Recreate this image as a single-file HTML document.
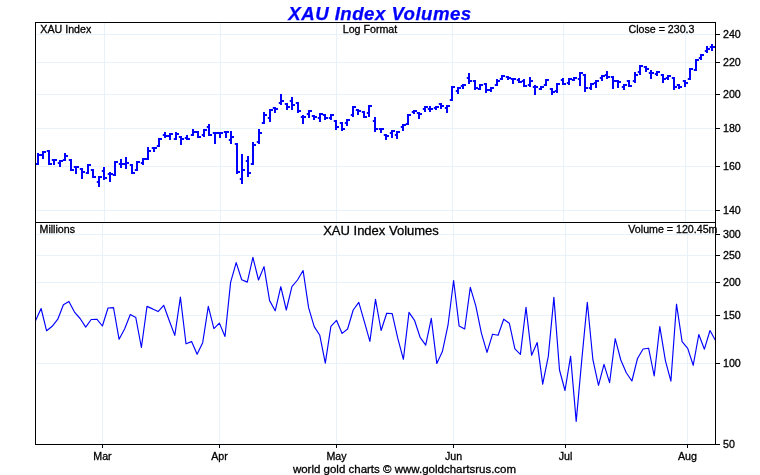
<!DOCTYPE html>
<html><head><meta charset="utf-8"><title>XAU Index Volumes</title>
<style>
html,body{margin:0;padding:0;background:#fff}
#c{position:relative;width:760px;height:475px;overflow:hidden;background:#fff;font-family:"Liberation Sans",Arial,sans-serif;color:#000}
.t{position:absolute;white-space:nowrap;line-height:1;-webkit-text-stroke:0.3px #000}
.s{font-size:10.67px;line-height:12px}
.m{font-size:13px;line-height:14px}
.f{font-size:11.5px;line-height:12px}
.title{font-size:18.67px;letter-spacing:0.46px;line-height:20px;font-weight:bold;font-style:italic;color:#0000ff;-webkit-text-stroke:0.25px #0000ff}
</style></head><body>
<div id="c">
<svg width="760" height="475" viewBox="0 0 760 475" style="position:absolute;left:0;top:0"><g fill="#e8f2fa" shape-rendering="crispEdges"><rect x="36" y="34" width="679" height="1"/><rect x="36" y="62" width="679" height="1"/><rect x="36" y="94" width="679" height="1"/><rect x="36" y="128" width="679" height="1"/><rect x="36" y="166" width="679" height="1"/><rect x="36" y="210" width="679" height="1"/><rect x="36" y="234" width="679" height="1"/><rect x="36" y="255" width="679" height="1"/><rect x="36" y="282" width="679" height="1"/><rect x="36" y="315" width="679" height="1"/><rect x="36" y="363" width="679" height="1"/><rect x="104" y="23" width="1" height="199"/><rect x="220" y="23" width="1" height="199"/><rect x="336" y="23" width="1" height="199"/><rect x="452" y="23" width="1" height="199"/><rect x="563" y="23" width="1" height="199"/><rect x="685" y="23" width="1" height="199"/><rect x="102" y="223" width="1" height="221"/><rect x="219" y="223" width="1" height="221"/><rect x="336" y="223" width="1" height="221"/><rect x="453" y="223" width="1" height="221"/><rect x="565" y="223" width="1" height="221"/><rect x="687" y="223" width="1" height="221"/></g><g fill="#0000ff"><rect x="37" y="153" width="2" height="12"/><rect x="35.8" y="163" width="1.2" height="2"/><rect x="39" y="154" width="2" height="2"/><rect x="42" y="151" width="2" height="8"/><rect x="40.8" y="154" width="1.2" height="2"/><rect x="44" y="151" width="2" height="2"/><rect x="48" y="150" width="2" height="15"/><rect x="46.8" y="150" width="1.2" height="2"/><rect x="50" y="163" width="2" height="2"/><rect x="53" y="159" width="2" height="6"/><rect x="51.8" y="159" width="1.2" height="2"/><rect x="55" y="159" width="2" height="2"/><rect x="59" y="160" width="2" height="7"/><rect x="57.8" y="162" width="1.2" height="2"/><rect x="61" y="160" width="2" height="2"/><rect x="64" y="153" width="2" height="8"/><rect x="62.8" y="159" width="1.2" height="2"/><rect x="66" y="155" width="2" height="2"/><rect x="70" y="159" width="2" height="12"/><rect x="68.8" y="159" width="1.2" height="2"/><rect x="72" y="169" width="2" height="2"/><rect x="75" y="166" width="2" height="8"/><rect x="73.8" y="166" width="1.2" height="2"/><rect x="77" y="166" width="2" height="2"/><rect x="81" y="168" width="2" height="11"/><rect x="79.8" y="168" width="1.2" height="2"/><rect x="83" y="171" width="2" height="2"/><rect x="87" y="164" width="2" height="10"/><rect x="85.8" y="172" width="1.2" height="2"/><rect x="89" y="164" width="2" height="2"/><rect x="92" y="169" width="2" height="9"/><rect x="90.8" y="169" width="1.2" height="2"/><rect x="94" y="176" width="2" height="2"/><rect x="98" y="176" width="2" height="11"/><rect x="96.8" y="181" width="1.2" height="2"/><rect x="100" y="176" width="2" height="2"/><rect x="103" y="167" width="2" height="13"/><rect x="101.8" y="170" width="1.2" height="2"/><rect x="105" y="177" width="2" height="2"/><rect x="109" y="172" width="2" height="10"/><rect x="107.8" y="173" width="1.2" height="2"/><rect x="111" y="173" width="2" height="2"/><rect x="114" y="161" width="2" height="15"/><rect x="112.8" y="174" width="1.2" height="2"/><rect x="116" y="161" width="2" height="2"/><rect x="120" y="159" width="2" height="9"/><rect x="118.8" y="163" width="1.2" height="2"/><rect x="122" y="163" width="2" height="2"/><rect x="125" y="157" width="2" height="12"/><rect x="123.8" y="163" width="1.2" height="2"/><rect x="127" y="162" width="2" height="2"/><rect x="131" y="164" width="2" height="10"/><rect x="129.8" y="164" width="1.2" height="2"/><rect x="133" y="172" width="2" height="2"/><rect x="136" y="161" width="2" height="10"/><rect x="134.8" y="169" width="1.2" height="2"/><rect x="138" y="161" width="2" height="2"/><rect x="142" y="158" width="2" height="7"/><rect x="140.8" y="162" width="1.2" height="2"/><rect x="144" y="158" width="2" height="2"/><rect x="147" y="147" width="2" height="13"/><rect x="145.8" y="158" width="1.2" height="2"/><rect x="149" y="150" width="2" height="2"/><rect x="153" y="147" width="2" height="5"/><rect x="151.8" y="147" width="1.2" height="2"/><rect x="155" y="147" width="2" height="2"/><rect x="158" y="138" width="2" height="9"/><rect x="156.8" y="145" width="1.2" height="2"/><rect x="160" y="138" width="2" height="2"/><rect x="164" y="132" width="2" height="6"/><rect x="162.8" y="134" width="1.2" height="2"/><rect x="166" y="135" width="2" height="2"/><rect x="169" y="133" width="2" height="7"/><rect x="167.8" y="135" width="1.2" height="2"/><rect x="171" y="133" width="2" height="2"/><rect x="175" y="132" width="2" height="8"/><rect x="173.8" y="138" width="1.2" height="2"/><rect x="177" y="133" width="2" height="2"/><rect x="180" y="136" width="2" height="9"/><rect x="178.8" y="136" width="1.2" height="2"/><rect x="182" y="138" width="2" height="2"/><rect x="186" y="135" width="2" height="5"/><rect x="184.8" y="137" width="1.2" height="2"/><rect x="188" y="138" width="2" height="2"/><rect x="192" y="129" width="2" height="7"/><rect x="190.8" y="134" width="1.2" height="2"/><rect x="194" y="131" width="2" height="2"/><rect x="197" y="131" width="2" height="7"/><rect x="195.8" y="131" width="1.2" height="2"/><rect x="199" y="136" width="2" height="2"/><rect x="203" y="129" width="2" height="8"/><rect x="201.8" y="134" width="1.2" height="2"/><rect x="205" y="129" width="2" height="2"/><rect x="208" y="124" width="2" height="12"/><rect x="206.8" y="126" width="1.2" height="2"/><rect x="210" y="134" width="2" height="2"/><rect x="214" y="132" width="2" height="12"/><rect x="212.8" y="132" width="1.2" height="2"/><rect x="216" y="132" width="2" height="2"/><rect x="219" y="132" width="2" height="6"/><rect x="217.8" y="132" width="1.2" height="2"/><rect x="221" y="132" width="2" height="2"/><rect x="225" y="131" width="2" height="7"/><rect x="223.8" y="131" width="1.2" height="2"/><rect x="227" y="131" width="2" height="2"/><rect x="230" y="131" width="2" height="13"/><rect x="228.8" y="139" width="1.2" height="2"/><rect x="232" y="136" width="2" height="2"/><rect x="236" y="143" width="2" height="31"/><rect x="234.8" y="143" width="1.2" height="2"/><rect x="238" y="171" width="2" height="2"/><rect x="241" y="154" width="2" height="30"/><rect x="239.8" y="178" width="1.2" height="2"/><rect x="243" y="169" width="2" height="2"/><rect x="247" y="156" width="2" height="21"/><rect x="245.8" y="160" width="1.2" height="2"/><rect x="249" y="172" width="2" height="2"/><rect x="252" y="142" width="2" height="23"/><rect x="250.8" y="163" width="1.2" height="2"/><rect x="254" y="144" width="2" height="2"/><rect x="258" y="129" width="2" height="15"/><rect x="256.8" y="141" width="1.2" height="2"/><rect x="260" y="132" width="2" height="2"/><rect x="263" y="112" width="2" height="12"/><rect x="261.8" y="122" width="1.2" height="2"/><rect x="265" y="114" width="2" height="2"/><rect x="269" y="109" width="2" height="13"/><rect x="267.8" y="117" width="1.2" height="2"/><rect x="271" y="109" width="2" height="2"/><rect x="274" y="107" width="2" height="6"/><rect x="272.8" y="107" width="1.2" height="2"/><rect x="276" y="108" width="2" height="2"/><rect x="280" y="94" width="2" height="11"/><rect x="278.8" y="102" width="1.2" height="2"/><rect x="282" y="100" width="2" height="2"/><rect x="286" y="103" width="2" height="7"/><rect x="284.8" y="103" width="1.2" height="2"/><rect x="288" y="106" width="2" height="2"/><rect x="291" y="97" width="2" height="13"/><rect x="289.8" y="100" width="1.2" height="2"/><rect x="293" y="104" width="2" height="2"/><rect x="297" y="102" width="2" height="11"/><rect x="295.8" y="102" width="1.2" height="2"/><rect x="299" y="110" width="2" height="2"/><rect x="302" y="115" width="2" height="9"/><rect x="300.8" y="116" width="1.2" height="2"/><rect x="304" y="116" width="2" height="2"/><rect x="308" y="110" width="2" height="8"/><rect x="306.8" y="113" width="1.2" height="2"/><rect x="310" y="110" width="2" height="2"/><rect x="313" y="115" width="2" height="5"/><rect x="311.8" y="115" width="1.2" height="2"/><rect x="315" y="116" width="2" height="2"/><rect x="319" y="113" width="2" height="9"/><rect x="317.8" y="117" width="1.2" height="2"/><rect x="321" y="113" width="2" height="2"/><rect x="324" y="114" width="2" height="6"/><rect x="322.8" y="114" width="1.2" height="2"/><rect x="326" y="117" width="2" height="2"/><rect x="330" y="114" width="2" height="6"/><rect x="328.8" y="117" width="1.2" height="2"/><rect x="332" y="114" width="2" height="2"/><rect x="335" y="120" width="2" height="10"/><rect x="333.8" y="120" width="1.2" height="2"/><rect x="337" y="126" width="2" height="2"/><rect x="341" y="122" width="2" height="9"/><rect x="339.8" y="122" width="1.2" height="2"/><rect x="343" y="128" width="2" height="2"/><rect x="346" y="119" width="2" height="7"/><rect x="344.8" y="122" width="1.2" height="2"/><rect x="348" y="119" width="2" height="2"/><rect x="352" y="106" width="2" height="11"/><rect x="350.8" y="114" width="1.2" height="2"/><rect x="354" y="106" width="2" height="2"/><rect x="357" y="109" width="2" height="6"/><rect x="355.8" y="109" width="1.2" height="2"/><rect x="359" y="110" width="2" height="2"/><rect x="363" y="111" width="2" height="7"/><rect x="361.8" y="111" width="1.2" height="2"/><rect x="365" y="116" width="2" height="2"/><rect x="368" y="105" width="2" height="12"/><rect x="366.8" y="112" width="1.2" height="2"/><rect x="370" y="105" width="2" height="2"/><rect x="374" y="117" width="2" height="15"/><rect x="372.8" y="120" width="1.2" height="2"/><rect x="376" y="128" width="2" height="2"/><rect x="380" y="128" width="2" height="5"/><rect x="378.8" y="128" width="1.2" height="2"/><rect x="382" y="128" width="2" height="2"/><rect x="385" y="134" width="2" height="6"/><rect x="383.8" y="134" width="1.2" height="2"/><rect x="387" y="135" width="2" height="2"/><rect x="391" y="130" width="2" height="8"/><rect x="389.8" y="132" width="1.2" height="2"/><rect x="393" y="130" width="2" height="2"/><rect x="396" y="131" width="2" height="8"/><rect x="394.8" y="134" width="1.2" height="2"/><rect x="398" y="131" width="2" height="2"/><rect x="402" y="124" width="2" height="7"/><rect x="400.8" y="126" width="1.2" height="2"/><rect x="404" y="124" width="2" height="2"/><rect x="407" y="114" width="2" height="11"/><rect x="405.8" y="123" width="1.2" height="2"/><rect x="409" y="114" width="2" height="2"/><rect x="413" y="110" width="2" height="4"/><rect x="411.8" y="111" width="1.2" height="2"/><rect x="415" y="110" width="2" height="2"/><rect x="418" y="112" width="2" height="7"/><rect x="416.8" y="112" width="1.2" height="2"/><rect x="420" y="113" width="2" height="2"/><rect x="424" y="106" width="2" height="6"/><rect x="422.8" y="108" width="1.2" height="2"/><rect x="426" y="106" width="2" height="2"/><rect x="429" y="106" width="2" height="6"/><rect x="427.8" y="108" width="1.2" height="2"/><rect x="431" y="108" width="2" height="2"/><rect x="435" y="106" width="2" height="4"/><rect x="433.8" y="107" width="1.2" height="2"/><rect x="437" y="106" width="2" height="2"/><rect x="440" y="103" width="2" height="6"/><rect x="438.8" y="103" width="1.2" height="2"/><rect x="442" y="105" width="2" height="2"/><rect x="446" y="105" width="2" height="8"/><rect x="444.8" y="107" width="1.2" height="2"/><rect x="448" y="105" width="2" height="2"/><rect x="451" y="86" width="2" height="15"/><rect x="449.8" y="99" width="1.2" height="2"/><rect x="453" y="86" width="2" height="2"/><rect x="457" y="87" width="2" height="7"/><rect x="455.8" y="90" width="1.2" height="2"/><rect x="459" y="87" width="2" height="2"/><rect x="462" y="84" width="2" height="5"/><rect x="460.8" y="85" width="1.2" height="2"/><rect x="464" y="84" width="2" height="2"/><rect x="468" y="73" width="2" height="11"/><rect x="466.8" y="77" width="1.2" height="2"/><rect x="470" y="80" width="2" height="2"/><rect x="474" y="80" width="2" height="10"/><rect x="472.8" y="80" width="1.2" height="2"/><rect x="476" y="87" width="2" height="2"/><rect x="479" y="84" width="2" height="6"/><rect x="477.8" y="88" width="1.2" height="2"/><rect x="481" y="84" width="2" height="2"/><rect x="485" y="83" width="2" height="10"/><rect x="483.8" y="83" width="1.2" height="2"/><rect x="487" y="89" width="2" height="2"/><rect x="490" y="87" width="2" height="5"/><rect x="488.8" y="89" width="1.2" height="2"/><rect x="492" y="87" width="2" height="2"/><rect x="496" y="79" width="2" height="7"/><rect x="494.8" y="84" width="1.2" height="2"/><rect x="498" y="80" width="2" height="2"/><rect x="501" y="75" width="2" height="5"/><rect x="499.8" y="78" width="1.2" height="2"/><rect x="503" y="75" width="2" height="2"/><rect x="507" y="76" width="2" height="4"/><rect x="505.8" y="76" width="1.2" height="2"/><rect x="509" y="77" width="2" height="2"/><rect x="512" y="78" width="2" height="6"/><rect x="510.8" y="78" width="1.2" height="2"/><rect x="514" y="78" width="2" height="2"/><rect x="518" y="78" width="2" height="5"/><rect x="516.8" y="79" width="1.2" height="2"/><rect x="520" y="81" width="2" height="2"/><rect x="523" y="79" width="2" height="8"/><rect x="521.8" y="80" width="1.2" height="2"/><rect x="525" y="85" width="2" height="2"/><rect x="529" y="77" width="2" height="10"/><rect x="527.8" y="84" width="1.2" height="2"/><rect x="531" y="80" width="2" height="2"/><rect x="534" y="85" width="2" height="10"/><rect x="532.8" y="86" width="1.2" height="2"/><rect x="536" y="86" width="2" height="2"/><rect x="540" y="86" width="2" height="4"/><rect x="538.8" y="88" width="1.2" height="2"/><rect x="542" y="86" width="2" height="2"/><rect x="545" y="79" width="2" height="7"/><rect x="543.8" y="84" width="1.2" height="2"/><rect x="547" y="79" width="2" height="2"/><rect x="551" y="88" width="2" height="7"/><rect x="549.8" y="88" width="1.2" height="2"/><rect x="553" y="91" width="2" height="2"/><rect x="556" y="83" width="2" height="10"/><rect x="554.8" y="90" width="1.2" height="2"/><rect x="558" y="83" width="2" height="2"/><rect x="562" y="78" width="2" height="7"/><rect x="560.8" y="79" width="1.2" height="2"/><rect x="564" y="83" width="2" height="2"/><rect x="568" y="78" width="2" height="7"/><rect x="566.8" y="82" width="1.2" height="2"/><rect x="570" y="78" width="2" height="2"/><rect x="573" y="77" width="2" height="4"/><rect x="571.8" y="79" width="1.2" height="2"/><rect x="575" y="77" width="2" height="2"/><rect x="579" y="72" width="2" height="14"/><rect x="577.8" y="78" width="1.2" height="2"/><rect x="581" y="72" width="2" height="2"/><rect x="584" y="74" width="2" height="18"/><rect x="582.8" y="74" width="1.2" height="2"/><rect x="586" y="87" width="2" height="2"/><rect x="590" y="83" width="2" height="7"/><rect x="588.8" y="87" width="1.2" height="2"/><rect x="592" y="83" width="2" height="2"/><rect x="595" y="80" width="2" height="8"/><rect x="593.8" y="82" width="1.2" height="2"/><rect x="597" y="80" width="2" height="2"/><rect x="601" y="75" width="2" height="6"/><rect x="599.8" y="77" width="1.2" height="2"/><rect x="603" y="75" width="2" height="2"/><rect x="606" y="71" width="2" height="8"/><rect x="604.8" y="74" width="1.2" height="2"/><rect x="608" y="76" width="2" height="2"/><rect x="612" y="76" width="2" height="13"/><rect x="610.8" y="76" width="1.2" height="2"/><rect x="614" y="80" width="2" height="2"/><rect x="617" y="80" width="2" height="8"/><rect x="615.8" y="80" width="1.2" height="2"/><rect x="619" y="81" width="2" height="2"/><rect x="623" y="84" width="2" height="6"/><rect x="621.8" y="86" width="1.2" height="2"/><rect x="625" y="84" width="2" height="2"/><rect x="628" y="80" width="2" height="7"/><rect x="626.8" y="80" width="1.2" height="2"/><rect x="630" y="85" width="2" height="2"/><rect x="634" y="72" width="2" height="11"/><rect x="632.8" y="80" width="1.2" height="2"/><rect x="636" y="74" width="2" height="2"/><rect x="639" y="65" width="2" height="10"/><rect x="637.8" y="71" width="1.2" height="2"/><rect x="641" y="65" width="2" height="2"/><rect x="645" y="66" width="2" height="6"/><rect x="643.8" y="66" width="1.2" height="2"/><rect x="647" y="68" width="2" height="2"/><rect x="650" y="70" width="2" height="9"/><rect x="648.8" y="72" width="1.2" height="2"/><rect x="652" y="72" width="2" height="2"/><rect x="656" y="71" width="2" height="5"/><rect x="654.8" y="73" width="1.2" height="2"/><rect x="658" y="71" width="2" height="2"/><rect x="662" y="74" width="2" height="9"/><rect x="660.8" y="74" width="1.2" height="2"/><rect x="664" y="78" width="2" height="2"/><rect x="667" y="75" width="2" height="5"/><rect x="665.8" y="77" width="1.2" height="2"/><rect x="669" y="75" width="2" height="2"/><rect x="673" y="77" width="2" height="13"/><rect x="671.8" y="77" width="1.2" height="2"/><rect x="675" y="86" width="2" height="2"/><rect x="678" y="84" width="2" height="5"/><rect x="676.8" y="84" width="1.2" height="2"/><rect x="680" y="86" width="2" height="2"/><rect x="684" y="80" width="2" height="7"/><rect x="682.8" y="80" width="1.2" height="2"/><rect x="686" y="82" width="2" height="2"/><rect x="689" y="68" width="2" height="12"/><rect x="687.8" y="78" width="1.2" height="2"/><rect x="691" y="68" width="2" height="2"/><rect x="695" y="59" width="2" height="12"/><rect x="693.8" y="69" width="1.2" height="2"/><rect x="697" y="59" width="2" height="2"/><rect x="700" y="54" width="2" height="6"/><rect x="698.8" y="57" width="1.2" height="2"/><rect x="702" y="54" width="2" height="2"/><rect x="706" y="46" width="2" height="7"/><rect x="704.8" y="50" width="1.2" height="2"/><rect x="708" y="48" width="2" height="2"/><rect x="711" y="44" width="2" height="7"/><rect x="709.8" y="46" width="1.2" height="2"/><rect x="713" y="46" width="2" height="2"/></g><polyline points="35.5,320.8 41.1,308.5 46.6,330.8 52.2,326.3 57.8,319.2 63.4,304.8 68.9,301.4 74.5,312.1 80.1,318.5 85.7,327.1 91.2,319.5 96.8,319.2 102.4,326.0 108.0,308.0 113.5,307.6 119.1,339.3 124.7,328.8 130.3,314.5 135.8,317.6 141.4,347.5 147.0,306.4 152.6,308.9 158.1,311.6 163.7,305.3 169.3,320.8 174.8,335.4 180.4,297.1 186.0,343.8 191.6,341.6 197.1,354.3 202.7,342.7 208.3,306.4 213.9,328.6 219.4,323.1 225.0,336.5 230.6,282.4 236.2,262.6 241.7,279.7 247.3,282.1 252.9,257.4 258.5,280.0 264.0,266.6 269.6,300.6 275.2,310.8 280.8,286.7 286.3,310.0 291.9,286.7 297.5,280.0 303.1,270.5 308.6,307.7 314.2,326.6 319.8,335.3 325.3,363.2 330.9,326.3 336.5,320.3 342.1,333.4 347.6,329.0 353.2,310.0 358.8,302.4 364.4,321.9 369.9,341.3 375.5,299.4 381.1,330.5 386.7,313.2 392.2,313.6 397.8,338.4 403.4,359.3 409.0,312.4 414.5,320.3 420.1,337.3 425.7,345.2 431.3,318.4 436.8,363.4 442.4,351.6 448.0,325.2 453.6,280.5 459.1,325.9 464.7,329.0 470.3,287.3 475.8,305.8 481.4,333.1 487.0,352.4 492.6,334.2 498.1,335.3 503.7,319.2 509.3,323.2 514.9,348.9 520.4,354.4 526.0,307.4 531.6,355.3 537.2,342.6 542.7,384.2 548.3,356.4 553.9,297.4 559.5,370.0 565.0,390.5 570.6,356.2 576.2,421.4 581.8,359.6 587.3,302.3 592.9,359.7 598.5,385.3 604.0,364.4 609.6,382.6 615.2,338.7 620.8,360.0 626.3,372.8 631.9,381.0 637.5,358.5 643.1,349.0 648.6,348.2 654.2,376.0 659.8,326.6 665.4,360.6 670.9,381.1 676.5,304.2 682.1,341.6 687.7,348.4 693.2,365.3 698.8,334.5 704.4,349.2 710.0,330.5 715.5,340.5" fill="none" stroke="#0000ff" stroke-width="1.15" stroke-linejoin="round"/><g fill="#000" shape-rendering="crispEdges"><rect x="35" y="22" width="681" height="1"/><rect x="35" y="222" width="681" height="1"/><rect x="35" y="444" width="681" height="1"/><rect x="35" y="22" width="1" height="423"/><rect x="715" y="22" width="1" height="423"/><rect x="716" y="34" width="4" height="1"/><rect x="716" y="62" width="4" height="1"/><rect x="716" y="94" width="4" height="1"/><rect x="716" y="128" width="4" height="1"/><rect x="716" y="166" width="4" height="1"/><rect x="716" y="210" width="4" height="1"/><rect x="716" y="234" width="4" height="1"/><rect x="716" y="255" width="4" height="1"/><rect x="716" y="282" width="4" height="1"/><rect x="716" y="315" width="4" height="1"/><rect x="716" y="363" width="4" height="1"/><rect x="716" y="444" width="4" height="1"/><rect x="102" y="445" width="1" height="3"/><rect x="219" y="445" width="1" height="3"/><rect x="336" y="445" width="1" height="3"/><rect x="453" y="445" width="1" height="3"/><rect x="565" y="445" width="1" height="3"/><rect x="687" y="445" width="1" height="3"/></g></svg>
<div class="t title" style="left:180px;width:400px;top:3.7px;text-align:center">XAU Index Volumes</div><div class="t s" style="left:40.3px;top:23.3px">XAU Index</div><div class="t s" style="left:270px;width:200px;top:23px;text-align:center">Log Format</div><div class="t s" style="right:65.5px;top:23px">Close = 230.3</div><div class="t s" style="left:39.5px;top:223.2px">Millions</div><div class="t m" style="left:281px;width:200px;top:223.5px;text-align:center">XAU Index Volumes</div><div class="t s" style="right:42.5px;top:223px">Volume = 120.45m</div><div class="t s" style="left:723px;top:28px">240</div><div class="t s" style="left:723px;top:56px">220</div><div class="t s" style="left:723px;top:88px">200</div><div class="t s" style="left:723px;top:122px">180</div><div class="t s" style="left:723px;top:160px">160</div><div class="t s" style="left:723px;top:204px">140</div><div class="t s" style="left:723px;top:228px">300</div><div class="t s" style="left:723px;top:249px">250</div><div class="t s" style="left:723px;top:276px">200</div><div class="t s" style="left:723px;top:309px">150</div><div class="t s" style="left:723px;top:357px">100</div><div class="t s" style="left:723px;top:438px">50</div><div class="t s" style="left:72px;width:61px;top:450px;text-align:center">Mar</div><div class="t s" style="left:189px;width:61px;top:450px;text-align:center">Apr</div><div class="t s" style="left:306px;width:61px;top:450px;text-align:center">May</div><div class="t s" style="left:423px;width:61px;top:450px;text-align:center">Jun</div><div class="t s" style="left:535px;width:61px;top:450px;text-align:center">Jul</div><div class="t s" style="left:657px;width:61px;top:450px;text-align:center">Aug</div><div class="t f" style="left:204.5px;width:400px;top:462.6px;text-align:center">world gold charts © www.goldchartsrus.com</div>
</div>
</body></html>
